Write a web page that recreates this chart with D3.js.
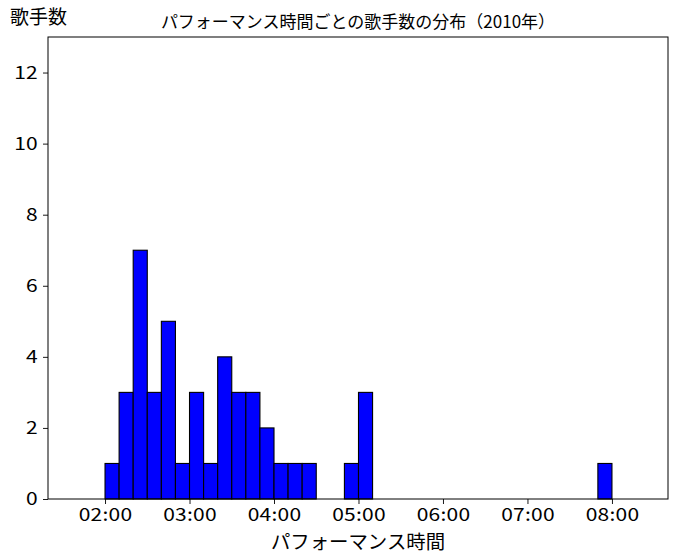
<!DOCTYPE html>
<html>
<head>
<meta charset="utf-8">
<script src="https://cdn.jsdelivr.net/npm/d3@7"></script>
<style>
  body { margin: 0; background: #fff; }
  text { font-family: "Noto Sans CJK JP", "Noto Sans", sans-serif; }
</style>
</head>
<body>
<div id="chart"></div>
<script>
// bin start (minutes) and singer count per 10-minute bin
var bin_starts = [120, 130, 140, 150, 160, 170, 180, 190, 200, 210, 220, 230, 240, 250, 260,
  270, 280, 290, 300, 310, 320, 330, 340, 350, 360, 370, 380, 390, 400, 410, 420, 430,
  440, 450, 460, 470, 480, 490, 500];
var counts = [1, 3, 7, 3, 5, 1, 3, 1, 4, 3, 3, 2, 1, 1, 1,
  0, 0, 1, 3, 0, 0, 0, 0, 0, 0, 0, 0, 0, 0, 0, 0, 0,
  0, 0, 0, 1, 0, 0, 0];
var bin_width = 10;

var x_tick_values = [120, 180, 240, 300, 360, 420, 480];
var x_tick_labels = ['02:00', '03:00', '04:00', '05:00', '06:00', '07:00', '08:00'];
var y_ticks = [0, 2, 4, 6, 8, 10, 12];

var chart_width = 678;
var chart_height = 560;
var margin = { left: 48, right: 10, top: 37, bottom: 61 };

var svg = d3.select('#chart')
  .append('svg')
  .attr('width', chart_width)
  .attr('height', chart_height);

var x_scale = d3.scaleLinear()
  .domain([79.5, 519.8])
  .range([margin.left, chart_width - margin.right]);

var y_scale = d3.scaleLinear()
  .domain([0, 13])
  .range([chart_height - margin.bottom, margin.top]);

// bars
svg.selectAll('rect.bar')
  .data(counts)
  .enter()
  .append('rect')
  .attr('class', 'bar')
  .attr('x', function(d, i) { return x_scale(bin_starts[i]); })
  .attr('y', function(d) { return y_scale(d); })
  .attr('width', function(d, i) { return x_scale(bin_starts[i] + bin_width) - x_scale(bin_starts[i]); })
  .attr('height', function(d) { return y_scale(0) - y_scale(d); })
  .attr('fill', '#0000ff')
  .attr('stroke', '#000')
  .attr('stroke-width', 1.1);

// axes
var x_axis = d3.axisBottom(x_scale)
  .tickValues(x_tick_values)
  .tickFormat(function(d, i) { return x_tick_labels[i]; })
  .tickSize(5)
  .tickPadding(5);

var y_axis = d3.axisLeft(y_scale)
  .tickValues(y_ticks)
  .tickSize(5)
  .tickPadding(4);

var gx = svg.append('g')
  .attr('transform', 'translate(0,' + y_scale(0) + ')')
  .call(x_axis);
var gy = svg.append('g')
  .attr('transform', 'translate(' + margin.left + ',0)')
  .call(y_axis);

// the reference digits are wider than Noto's, so stretch them a bit
var stretch = 1.2;
[gx, gy].forEach(function(g) {
  g.select('.domain').remove();
  g.selectAll('.tick line').attr('stroke', '#000').attr('stroke-width', 0.9);
  g.selectAll('.tick text')
    .attr('fill', '#000')
    .attr('font-size', 17.5)
    .attr('transform', 'scale(' + stretch + ',1)')
    .style('letter-spacing', '0.2px')
    .style('font-family', '"Noto Sans CJK JP", sans-serif');
});
gy.selectAll('.tick text').attr('x', -10 / stretch);

// frame
svg.append('rect')
  .attr('x', margin.left)
  .attr('y', margin.top)
  .attr('width', chart_width - margin.left - margin.right)
  .attr('height', chart_height - margin.top - margin.bottom)
  .attr('fill', 'none')
  .attr('stroke', '#000')
  .attr('stroke-width', 1);

// labels
svg.append('text')
  .text('パフォーマンス時間ごとの歌手数の分布（2010年）')
  .attr('x', (margin.left + chart_width - margin.right) / 2)
  .attr('y', 28)
  .attr('text-anchor', 'middle')
  .attr('font-size', 17)
  .attr('fill', '#000');

svg.append('text')
  .text('パフォーマンス時間')
  .attr('x', (margin.left + chart_width - margin.right) / 2)
  .attr('y', 549)
  .attr('text-anchor', 'middle')
  .attr('font-size', 19.4)
  .attr('fill', '#000');

svg.append('text')
  .text('歌手数')
  .attr('x', 10)
  .attr('y', 24)
  .attr('font-size', 19)
  .attr('fill', '#000');
</script>
</body>
</html>
